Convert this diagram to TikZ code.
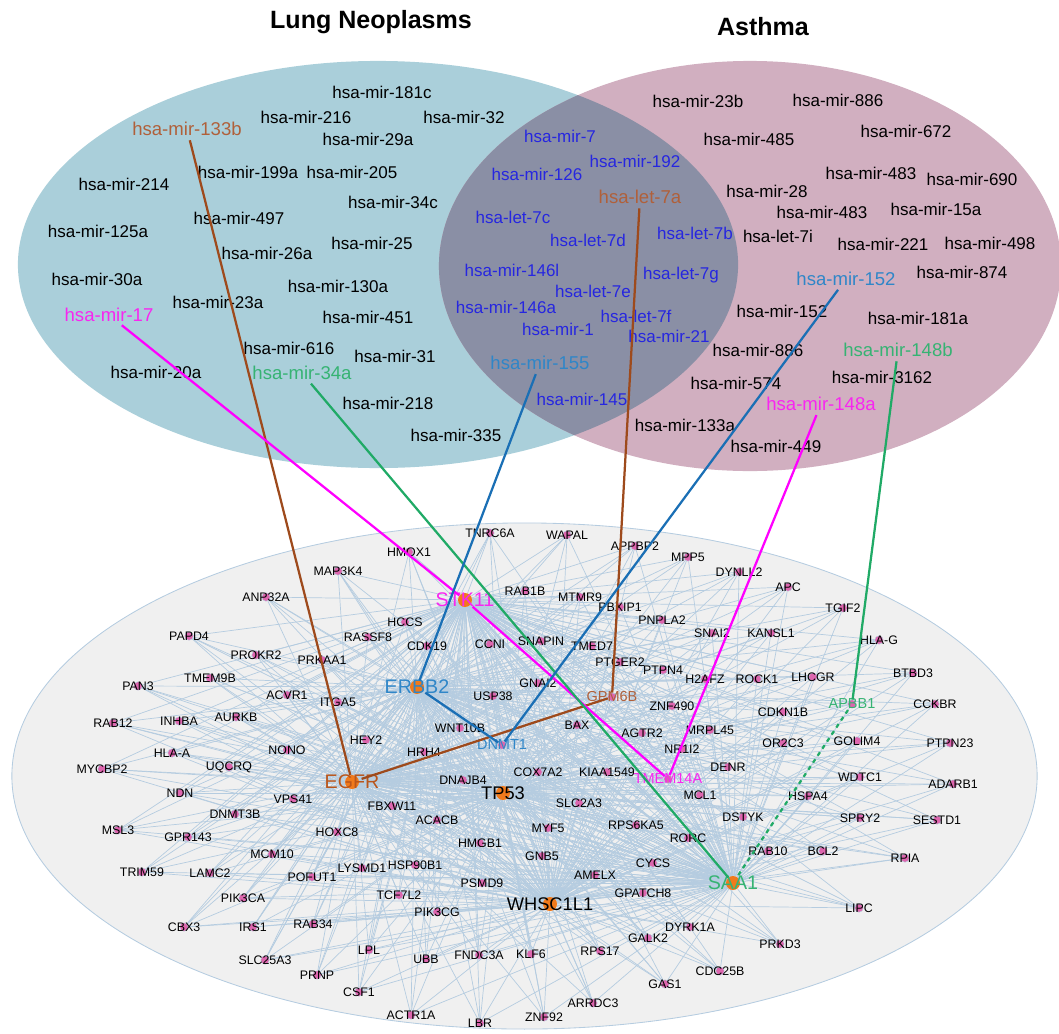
\documentclass[tikz,border=0pt]{standalone}
\usepackage{fontspec}
\setmainfont{Liberation Sans}
\pgfdeclarelayer{back}
\pgfdeclarelayer{edges}
\pgfsetlayers{back,edges,main}

\definecolor{lungblue}{HTML}{AACFDA}
\definecolor{asthmapink}{HTML}{D1AFC0}
\definecolor{overlapgray}{HTML}{8A8FA5}
\definecolor{netgray}{HTML}{F0F0F0}
\definecolor{netedge}{HTML}{B5CCE0}
\definecolor{dotpink}{HTML}{DD66AE}
\definecolor{huborange}{HTML}{F07A1C}
\definecolor{linebrown}{HTML}{9E4A1C}
\definecolor{labbrown}{HTML}{B0603A}
\definecolor{egfrbrown}{HTML}{B9561C}
\definecolor{linemagenta}{HTML}{FF00FF}
\definecolor{labmagenta}{HTML}{F826F0}
\definecolor{linegreen}{HTML}{20AA66}
\definecolor{labgreen}{HTML}{36B373}
\definecolor{lineblue}{HTML}{1A6FB5}
\definecolor{labblue}{HTML}{2F86C8}
\definecolor{mirblue}{HTML}{2626E0}

% gene dots of the network: name/x/y
\newcommand{\genepos}{MAP3K4/338/571, ANP32A/266/597, PAPD4/189/636, PROKR2/256/655,
  PRKAA1/322/660, TMEM9B/210/678, PAN3/138/686, ACVR1/287/695, ITGA5/338/702,
  RAB12/113/723, INHBA/179/721, AURKB/236/717, NONO/287/750, HLA-A/172/753,
  MYCBP2/102/769, UQCRQ/229/767, NDN/180/793, VPS41/293/799, DNMT3B/235/814,
  MSL3/118/830, GPR143/188/837, HOXC8/337/832, MCM10/272/854, TRIM59/142/872,
  LAMC2/210/873, POFUT1/312/877, LYSMD1/362/868, PIK3CA/243/898, CBX3/184/927,
  IRS1/253/927, RAB34/313/924, SLC25A3/265/960, PRNP/317/975, CSF1/359/992,
  DNAJB4/463/780, COX7A2/538/772, KIAA1549/607/772, FBXW11/392/806, SLC2A3/579/803,
  ACACB/437/820, MYF5/548/828, RPS6KA5/636/825, HMGB1/480/843, GNB5/542/856,
  RORC/688/838, HSP90B1/415/865, CYCS/653/863, AMELX/595/875, PSMD9/482/883,
  TCF7L2/399/895, GPATCH8/643/893, PIK3CG/437/912, DYRK1A/690/927, GALK2/648/938,
  LPL/369/950, UBB/426/959, FNDC3A/479/955, KLF6/531/954, RPS17/600/951,
  GAS1/665/984, ARRDC3/593/1003, ACTR1A/411/1015, LBR/480/1023, ZNF92/544/1017,
  CDC25B/720/971, PRKD3/780/944, LIPC/859/908, RAB10/768/851, BCL2/823/851,
  RPIA/905/858, DSTYK/743/817, SPRY2/860/818, SESTD1/937/820, HSPA4/808/796,
  WDTC1/860/777, ADARB1/953/784, DENR/728/767, MCL1/700/795, NR1I2/682/749,
  AGTR2/642/733, BAX/577/725, MRPL45/710/730, ZNF490/672/706, GNAI2/538/683,
  PTGER2/620/662, PTPN4/663/670, H2AFZ/705/679, ROCK1/757/679, LHCGR/813/677,
  CDKN1B/783/712, OR2C3/783/743, TMED7/592/646, TNRC6A/490/533, WAPAL/567/535,
  APPBP2/635/546, MPP5/688/557, HMOX1/409/552, RAB1B/525/591, MTMR9/580/597,
  PBXIP1/620/607, PNPLA2/662/620, HCCS/405/622, RASSF8/368/637, CDK19/427/646,
  CCNI/490/644, SNAPIN/541/641, USP38/493/696, WNT10B/460/728, HEY2/366/740,
  HRH4/424/752, DYNLL2/739/572, APC/788/587, TGIF2/843/608, SNAI2/712/633,
  KANSL1/771/633, HLA-G/879/640, BTBD3/913/673, CCKBR/935/704, GOLIM4/857/741,
  PTPN23/950/743}

\begin{document}
\begin{tikzpicture}[x=0.025cm, y=-0.025cm,
    title/.style={font=\fontsize{17.8}{20}\selectfont\bfseries},
    mir/.style={font=\fontsize{12.1}{14}\selectfont, inner sep=1pt},
    mirc/.style={font=\fontsize{13.2}{15}\selectfont, inner sep=1pt},
    gene/.style={circle, fill=dotpink, draw=netedge, line width=0.3pt, minimum size=0.21cm, inner sep=0pt},
    hub/.style={circle, fill=huborange, minimum size=0.35cm, inner sep=0pt},
    glab/.style={font=\fontsize{8.8}{10}\selectfont, inner sep=0pt},
    clab/.style={font=\fontsize{10.3}{12}\selectfont, inner sep=0pt},
    hublab/.style={font=\fontsize{14}{16}\selectfont, inner sep=0pt},
    net/.style={draw=netedge, line width=0.5pt},
    conn/.style={line width=1.6pt, shorten <=2pt},
  ]
  \useasboundingbox (0,0) rectangle (1059,1033);

  % titles
  \node[title] (tlung) at (371,22) {Lung Neoplasms};
  \node[title] (tasthma) at (763,27) {Asthma};

  % venn
  \fill[lungblue] (378,264.5) ellipse [x radius=9cm, y radius=5.0875cm];
  \fill[asthmapink] (750,266) ellipse [x radius=7.775cm, y radius=5.125cm];
  \begin{scope}
    \clip (378,264.5) ellipse [x radius=9cm, y radius=5.0875cm];
    \fill[overlapgray] (750,266) ellipse [x radius=7.775cm, y radius=5.125cm];
  \end{scope}

  % lung only
  \foreach \t/\x/\y [count=\i] in {hsa-mir-181c/382/92, hsa-mir-216/306/117,
      hsa-mir-32/464/117, hsa-mir-29a/368/139, hsa-mir-199a/248/172,
      hsa-mir-205/352/172, hsa-mir-214/124/184, hsa-mir-34c/393/202,
      hsa-mir-497/239/218, hsa-mir-125a/98/231, hsa-mir-26a/267/253,
      hsa-mir-25/372/243, hsa-mir-30a/97/279, hsa-mir-130a/338/286,
      hsa-mir-23a/218/302, hsa-mir-451/368/317, hsa-mir-616/289/348,
      hsa-mir-31/395/356, hsa-mir-20a/156/372, hsa-mir-218/388/403,
      hsa-mir-335/456/435}
    \node[mir] (lung\i) at (\x,\y) {\t};
  \node[mirc, text=labbrown] (m133b) at (187,129) {hsa-mir-133b};
  \node[mirc, text=labmagenta] (m17) at (109,315) {hsa-mir-17};
  \node[mirc, text=labgreen] (m34a) at (302,373) {hsa-mir-34a};

  % shared
  \foreach \t/\x/\y [count=\i] in {hsa-mir-7/560/136, hsa-mir-192/635/161,
      hsa-mir-126/537/174, hsa-let-7c/513/217, hsa-let-7d/588/240,
      hsa-let-7b/695/233, hsa-mir-146l/512/270, hsa-let-7g/681/275,
      hsa-let-7e/593/291, hsa-mir-146a/506/307, hsa-let-7f/636/316,
      hsa-mir-1/558/329, hsa-mir-21/669/336, hsa-mir-145/582/399}
    \node[mir, text=mirblue] (both\i) at (\x,\y) {\t};
  \node[mirc, text=labbrown] (let7a) at (640,197) {hsa-let-7a};
  \node[mirc, text=labblue] (m155) at (540,363) {hsa-mir-155};

  % asthma only
  \foreach \t/\x/\y [count=\i] in {hsa-mir-23b/698/101, hsa-mir-886/838/100,
      hsa-mir-672/906/131, hsa-mir-485/749/139, hsa-mir-483/871/173,
      hsa-mir-690/972/179, hsa-mir-28/767/191, hsa-mir-483/822/212,
      hsa-mir-15a/936/209, hsa-let-7i/778/236, hsa-mir-221/883/244,
      hsa-mir-498/990/243, hsa-mir-874/962/272, hsa-mir-152/782/311,
      hsa-mir-181a/918/318, hsa-mir-886/758/350, hsa-mir-3162/882/377,
      hsa-mir-574/736/383, hsa-mir-133a/685/425, hsa-mir-449/776/446}
    \node[mir] (asth\i) at (\x,\y) {\t};
  \node[mirc, text=labblue] (m152) at (846,279) {hsa-mir-152};
  \node[mirc, text=labgreen] (m148b) at (898,350) {hsa-mir-148b};
  \node[mirc, text=labmagenta] (m148a) at (821,404) {hsa-mir-148a};

  % network
  \begin{pgfonlayer}{back}
    \filldraw[fill=netgray, draw=netedge, line width=0.6pt]
      (524.5,776) ellipse [x radius=12.8125cm, y radius=6.325cm];
  \end{pgfonlayer}

  \node[hub, label={[hublab, text=labmagenta]center:STK11}] (STK11) at (465,600) {};
  \node[hub, label={[hublab, text=labblue]center:ERBB2}] (ERBB2) at (417,687) {};
  \node[hub, label={[hublab, text=egfrbrown]center:EGFR}] (EGFR) at (352,782) {};
  \node[hub, label={[hublab, font=\fontsize{13}{15}\selectfont]center:TP53}] (TP53) at (503,793) {};
  \node[hub, label={[hublab, font=\fontsize{13}{15}\selectfont]center:WHSC1L1}] (WHSC1L1) at (550,904) {};
  \node[hub, label={[hublab, text=labgreen]center:SAA1}] (SAA1) at (733,883) {};

  \foreach \g/\x/\y in \genepos
    \node[gene, label={[glab]center:\g}] (\g) at (\x,\y) {};
  \node[gene, label={[clab, text=labbrown]center:GPM6B}] (GPM6B) at (612,697) {};
  \node[gene, label={[clab, text=labblue]center:DNMT1}] (DNMT1) at (502,745) {};
  \node[gene, label={[clab, text=labmagenta]center:TMEM14A}] (TMEM14A) at (668,779) {};
  \node[gene, label={[clab, text=labgreen]center:APBB1}] (APBB1) at (852,704) {};

  \begin{pgfonlayer}{edges}
    \foreach \h in {STK11,ERBB2,EGFR,TP53,WHSC1L1,SAA1} {
      \foreach \g/\x/\y in \genepos
        \draw[net] (\g) -- (\h);
      \foreach \g in {GPM6B,DNMT1,TMEM14A,APBB1}
        \draw[net] (\g) -- (\h);
    }
    \foreach \a/\b in {STK11/ERBB2, STK11/EGFR, STK11/TP53, STK11/WHSC1L1,
        STK11/SAA1, ERBB2/EGFR, ERBB2/TP53, ERBB2/WHSC1L1, ERBB2/SAA1,
        EGFR/TP53, EGFR/WHSC1L1, EGFR/SAA1, TP53/WHSC1L1, TP53/SAA1, WHSC1L1/SAA1}
      \draw[net] (\a) -- (\b);
  \end{pgfonlayer}

  % mirna to gene links
  \draw[conn, linebrown] (m133b) -- (EGFR);
  \draw[conn, linebrown] (let7a) -- (GPM6B);
  \draw[conn, linebrown] (EGFR) -- (GPM6B);
  \draw[conn, linemagenta] (m17) -- (STK11);
  \draw[conn, linemagenta] (STK11) -- (TMEM14A);
  \draw[conn, linemagenta] (m148a) -- (TMEM14A);
  \draw[conn, linegreen] (m34a) -- (SAA1);
  \draw[conn, linegreen] (m148b) -- (APBB1);
  \draw[conn, linegreen, dashed] (APBB1) -- (SAA1);
  \draw[conn, lineblue] (m155) -- (ERBB2);
  \draw[conn, lineblue] (ERBB2) -- (DNMT1);
  \draw[conn, lineblue] (m152) -- (DNMT1);
\end{tikzpicture}
\end{document}
